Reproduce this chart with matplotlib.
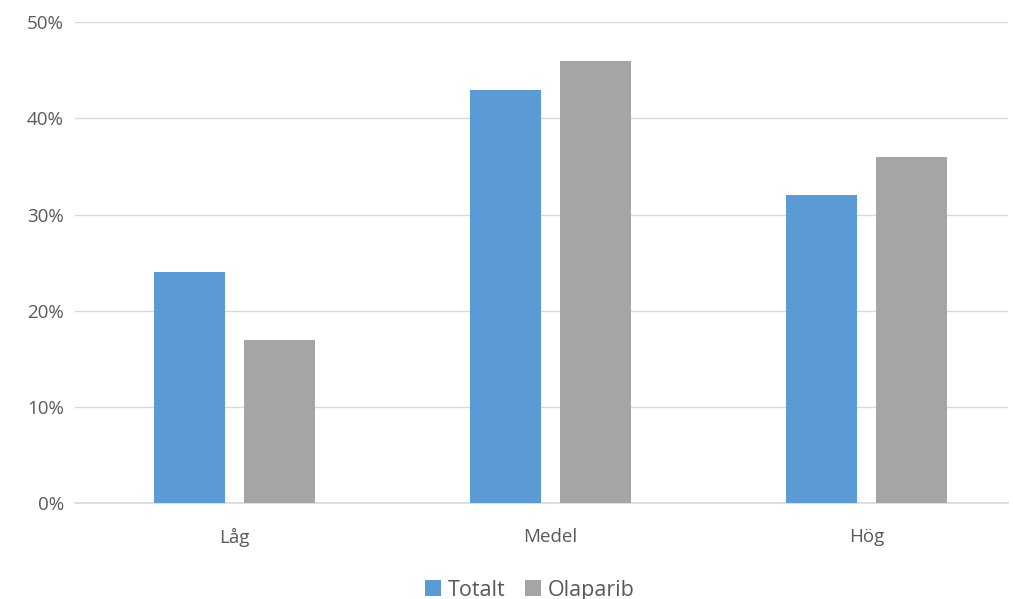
import numpy as np
import matplotlib.pyplot as plt
from matplotlib.ticker import PercentFormatter

# andel patienter per nivå
kategorier = ['Låg', 'Medel', 'Hög']
totalt = [24, 43, 32]
olaparib = [17, 46, 36]
serier = ['Totalt', 'Olaparib']

plt.rcParams['font.family'] = ['Open Sans', 'DejaVu Sans']
textfarg = '#595959'

fig = plt.figure(figsize=(10.13, 5.99), dpi=100)
ax = fig.add_axes([0.074, 0.160, 0.921, 0.803])

x = np.arange(len(kategorier))
bredd = 0.225
ax.bar(x - 0.142, totalt, bredd, color='#5B9BD5', label=serier[0], zorder=3)
ax.bar(x + 0.142, olaparib, bredd, color='#A5A5A5', label=serier[1], zorder=3)

ax.set_ylim(0, 50)
ax.set_xlim(-0.505, 2.448)
ax.set_yticks(range(0, 51, 10))
ax.yaxis.set_major_formatter(PercentFormatter(decimals=0))
ax.set_xticks(x)
ax.set_xticklabels(kategorier)
ax.grid(axis='y', color='#D9D9D9', linewidth=1, zorder=0)
for s in ['top', 'right', 'left']:
    ax.spines[s].set_visible(False)
ax.spines['bottom'].set_color('#D9D9D9')
ax.spines['bottom'].set_linewidth(1.2)
ax.tick_params(axis='both', length=0, labelsize=13.5, colors=textfarg)
ax.tick_params(axis='x', pad=18)
ax.tick_params(axis='y', pad=8)

leg = fig.legend(loc='lower center', bbox_to_anchor=(0.523, -0.035), ncol=2,
                 frameon=False, fontsize=15.5, handlelength=0.75, handleheight=0.75,
                 handletextpad=0.3, columnspacing=0.9)
for t in leg.get_texts():
    t.set_color(textfarg)

fig.savefig('out.png', dpi=100)
